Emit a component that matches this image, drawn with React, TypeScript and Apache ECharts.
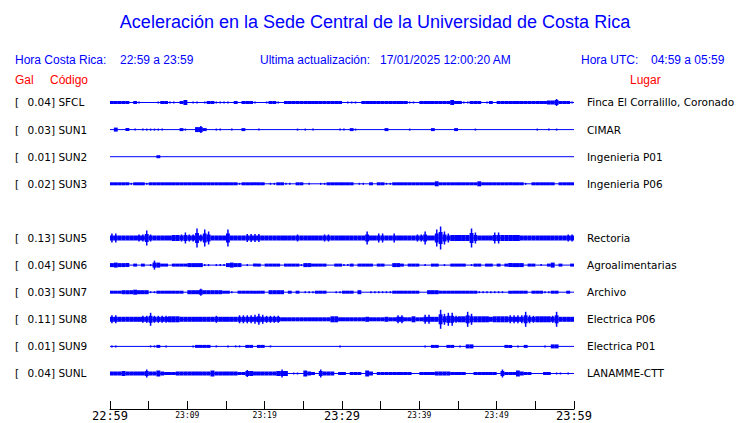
import React, { useEffect, useRef } from 'react';
import * as echarts from 'echarts';

// ---------- data ----------
const codes = ['SFCL', 'SUN1', 'SUN2', 'SUN3', 'SUN4', 'SUN5', 'SUN6', 'SUN7', 'SUN8', 'SUN9', 'SUNL'];
const galPeaks: (number | null)[] = [0.04, 0.03, 0.01, 0.02, null, 0.13, 0.04, 0.03, 0.11, 0.01, 0.04];
const places = ['Finca El Corralillo, Coronado', 'CIMAR', 'Ingenieria P01', 'Ingenieria P06', '', 'Rectoria',
  'Agroalimentarias', 'Archivo', 'Electrica P06', 'Electrica P01', 'LANAMME-CTT'];

const tickMinutes = [0, 10, 20, 30, 40, 50, 60];
const tickLabels = ['22:59', '23:09', '23:19', '23:29', '23:39', '23:49', '23:59'];
const tickMajor = [true, false, false, true, false, false, true];

const BIN_MINUTES = 0.5; // envelope read every half minute
const RECORD_START = 0;
const RECORD_END = 60;

// envelope half-amplitude per half-minute bin (relative units)
const envSFCL = [
  1, 1, 1, 1, 1, 0, 1, 0.5, 0, 0, 0, 0, 0.5, 1, 1, 0.5, 0.5, 0, 1, 2,
  0, 0.5, 0.5, 0, 0.5, 1, 1, 0.5, 0.5, 0.5, 0.5, 0, 1, 0, 1, 1, 1, 0.5, 0, 0,
  0.5, 1, 1, 0.5, 0, 1, 1, 1, 1, 1, 1, 1, 1, 1, 1, 1, 1, 1, 1, 1,
  0, 0.5, 0.5, 0.5, 0, 1, 1, 1, 1, 1, 1, 1, 1, 1, 1, 1, 1, 0.5, 0.5, 0,
  1, 1, 1, 1, 1, 1, 1, 1, 2, 1, 1, 0.5, 0.5, 1, 1, 1, 0, 0.5, 1, 0,
  1, 1, 1, 1, 1, 1, 1, 1, 1, 1, 1, 1, 1, 1.5, 1.5, 3, 1, 1, 1, 0.5,
];
const envSUN1 = [
  0, 1.5, 0, 0, 1, 0, 0.5, 0, 0.5, 0.5, 0.5, 0.5, 0.5, 0.5, 0, 0, 0, 0, 1, 0.5,
  0, 0, 2, 3, 1, 0, 0, 0.5, 0.5, 0, 0, 0.5, 0, 0, 1, 0, 0, 0, 0.5, 0,
  0, 0, 0, 0, 0, 0, 0, 0, 0.5, 0, 0.5, 0, 0.5, 0, 0, 0, 0, 0, 0, 0.5,
  0.5, 0, 1, 0.5, 0, 0, 0, 0, 0, 0, 0, 1, 0, 0, 0, 0, 0, 0.5, 0, 0,
  0, 0, 0, 1, 0, 0, 0, 0, 0, 1, 0, 0, 0, 0, 0.5, 0, 0, 0, 0, 0,
  0, 0, 0, 0, 0, 0, 0, 0, 0, 0, 0.5, 0, 0, 0.5, 0, 0.5, 0, 0, 0, 0,
];
const envSUN2 = [
  0, 0, 0, 0, 0, 0, 0, 0, 0, 0, 0, 0, 1, 0, 0, 0, 0, 0, 0, 0,
  0, 0, 0, 0, 0, 0, 0, 0, 0, 0, 0, 0, 0, 0, 0, 0, 0, 0, 0, 0,
  0, 0, 0, 0, 0, 0, 0, 0, 0, 0, 0, 0, 0, 0, 0, 0, 0, 0, 0, 0,
  0, 0, 0, 0, 0, 0, 0, 0, 0, 0, 0, 0, 0, 0, 0, 0, 0, 0, 0, 0,
  0, 0, 0, 0, 0, 0, 0, 0, 0, 0, 0, 0, 0, 0, 0, 0, 0, 0, 0, 0,
  0, 0, 0, 0, 0, 0, 0, 0, 0, 0, 0, 0, 0, 0, 0, 0, 0, 0, 0, 0,
];
const envSUN3 = [
  1, 1, 1, 1, 1, 0.5, 1, 1, 1, 0.5, 1, 1, 1, 1, 1, 1, 1, 1, 1, 1,
  1, 1, 1, 1, 1, 1, 1, 1, 1, 1, 1, 1, 1, 0.5, 1, 1, 1, 1, 1, 1,
  0, 0.5, 0.5, 1, 1, 0.5, 0.5, 0, 1, 1, 0, 0.5, 0, 0, 0.5, 0.5, 1, 1, 1, 1,
  1, 1, 1, 0, 0.5, 0.5, 0, 1, 0, 1, 1, 0.5, 0.5, 1, 1, 1, 1, 1, 1, 1,
  1, 1, 1, 1, 2, 1, 1, 1, 1, 1, 1, 1, 1, 1, 1, 2, 1, 1, 1, 1,
  1, 1, 1, 1, 1, 1, 1, 0.5, 0, 1, 1, 1, 1, 1, 1, 0, 1, 1, 1, 1,
];
const envSUN5 = [
  4, 4, 2, 2, 2, 2, 2, 3, 3, 7, 3, 2, 2, 2, 2, 2, 2.5, 2.5, 3, 5,
  3, 3, 9, 3, 8, 6, 2, 2, 2, 2, 8, 2, 2, 2, 2, 3.5, 3.5, 3.5, 3.5, 2,
  2, 2, 2, 2, 2, 2, 2, 2, 3, 2, 2, 2, 2, 2, 2, 3, 3, 2, 2, 2,
  2, 2, 2, 2, 2, 2, 6, 2, 2, 4, 4, 2, 2, 4, 2, 2, 2, 2, 2, 3,
  3, 6, 2, 2, 8, 11, 6, 4, 2.5, 2.5, 2.5, 2.5, 2.5, 9, 5, 2, 2, 2, 2, 5,
  5, 2.5, 2.5, 2.5, 2.5, 2.5, 2, 2, 2, 2, 2, 2, 2, 2, 2, 2, 2, 2, 3, 3,
];
const envSUN6 = [
  1.5, 2, 1.5, 1.5, 1.5, 0, 1, 0, 1, 0, 0.5, 4, 2, 1, 1, 0, 1, 1, 1, 1,
  1.5, 1.5, 1.5, 1.5, 0.5, 0.5, 0, 0.5, 0.5, 0.5, 1.5, 2, 1.5, 1.5, 0, 0.5, 0, 1, 1, 0,
  1, 1, 1, 1, 0, 1, 1, 1, 1, 0.5, 1.5, 1.5, 1, 1, 1, 1, 0, 0, 1, 1,
  0.5, 0.5, 1, 0, 1, 1, 1, 1, 0, 1, 1, 0, 0, 1.5, 1.5, 1, 0, 1, 1, 1,
  0, 0.5, 0, 1, 1, 0, 0.5, 0, 1, 1, 1, 1, 0, 0.5, 1, 1, 0, 1, 1, 0,
  1, 0, 1, 1.5, 1.5, 1.5, 1.5, 0, 1, 1, 0, 0.5, 0, 1, 2, 0, 1, 0, 0, 1,
];
const envSUN7 = [
  1, 1, 1, 1.5, 1.5, 1.5, 2, 1.5, 1.5, 1.5, 0.5, 0.5, 1, 1, 1, 1, 1, 1, 1, 0,
  1.5, 1.5, 1.5, 3, 1.5, 1.5, 1.5, 1.5, 1.5, 1, 1, 0.5, 0, 1, 1, 1, 1, 1, 1, 1,
  0, 1.5, 1.5, 1.5, 1.5, 0, 1, 0, 1, 0, 0.5, 0.5, 0.5, 1, 1, 1, 0, 0, 0.5, 0.5,
  1, 1, 1, 0, 1.5, 0, 0, 0.5, 0.5, 0.5, 0.5, 0.5, 0.5, 1, 1, 1, 1, 1, 1, 1,
  0, 0, 1.5, 1.5, 1.5, 1, 1, 1, 1, 1, 1, 1, 1, 1, 1, 0.5, 0.5, 0.5, 0.5, 0.5,
  0.5, 0.5, 0, 1, 1, 1, 1, 1, 0, 1, 1, 1, 0.5, 0.5, 1, 1, 0, 0, 1, 0,
];
const envSUN8 = [
  3.5, 3.5, 2, 2, 2, 2, 2, 2, 3, 3, 6, 3, 3, 3, 3, 2.5, 2.5, 2.5, 2, 2,
  2, 2, 2, 2, 2, 2, 2, 3, 2, 2, 2, 2, 2, 3.5, 3.5, 3.5, 3.5, 4, 5, 4,
  3, 3, 3, 3, 1.5, 1.5, 1.5, 1.5, 1.5, 1.5, 1.5, 1.5, 1.5, 1.5, 1.5, 1.5, 1.5, 2.5, 2.5, 1.5,
  1.5, 1.5, 1.5, 1.5, 1.5, 1.5, 2, 1.5, 1.5, 1.5, 1.5, 2, 1.5, 1.5, 3.5, 3.5, 1.5, 1.5, 2.5, 1.5,
  1.5, 4, 4, 2, 2, 9, 5, 6, 6, 3, 2.5, 2.5, 7, 5, 2.5, 2.5, 2.5, 2.5, 2, 2.5,
  2.5, 2.5, 2.5, 3.5, 3.5, 3.5, 3.5, 7, 3.5, 3, 2.5, 2.5, 2.5, 2.5, 3, 7, 2, 2, 2, 2,
];
const envSUN9 = [
  0.5, 0.5, 0, 0, 0, 0, 0, 0, 0, 0, 0.5, 0.5, 1, 0, 0.5, 0, 0, 0, 0, 0,
  0, 0.5, 1, 1, 1, 1, 0, 0.5, 0, 0, 0.5, 0, 0.5, 0.5, 0, 1, 1, 0, 1, 1,
  0, 0.5, 0, 0, 0, 0, 0, 0, 0, 0, 0, 0, 0, 0, 0, 0, 0, 0, 0, 0.5,
  0, 0, 0, 0, 0, 0, 0, 0, 0, 0, 0, 0, 0, 0, 0, 0, 0, 0, 0, 0,
  0, 0.5, 0, 1, 1, 0, 0, 1, 1, 0, 0.5, 0, 1.5, 1.5, 0, 0, 0, 0, 0, 0,
  0, 0, 1, 1, 0, 0.5, 0, 1, 0, 0, 0, 0, 0.5, 0, 1.5, 1.5, 0, 0, 0, 0,
];
const envSUNL = [
  1.5, 1.5, 1.5, 2, 1.5, 1.5, 1.5, 1.5, 1.5, 3.5, 1.5, 1.5, 2.5, 1.5, 1, 1, 1, 1.5, 1.5, 1.5,
  1.5, 1.5, 1.5, 1.5, 1.5, 1.5, 2.5, 1.5, 1.5, 1.5, 1.5, 1.5, 1.5, 1, 1, 3, 2, 1.5, 1.5, 1.5,
  1.5, 1.5, 1.5, 2, 3.5, 2, 0, 0.5, 0.5, 0, 2.5, 1.5, 1, 0, 3.5, 1.5, 1.5, 1.5, 0, 1,
  1, 0, 1, 1, 1, 0, 2.5, 1.5, 0, 1, 1, 1, 1, 1, 1, 1, 1, 1, 0, 0,
  1, 1, 1, 1, 1.5, 1.5, 1.5, 1.5, 1, 1, 1, 1, 0, 0, 1, 1, 1, 1, 1, 1,
  0, 3.5, 1, 1, 1, 2.5, 1.5, 1, 1, 0, 0, 0, 1, 1, 0, 0.5, 0.5, 0, 0.5, 0,
];

const envelopes: (number[] | null)[] = [envSFCL, envSUN1, envSUN2, envSUN3, null, envSUN5, envSUN6, envSUN7, envSUN8, envSUN9, envSUNL];

// ---------- styling ----------
const BLUE = '#0000ff';
const RED = '#ff0000';
const SANS = '"Liberation Sans", Arial, sans-serif';
const DEJAVU = '"DejaVu Sans", sans-serif';
const MONO = '"DejaVu Sans Mono", monospace';

function buildOption() {
  const envData: number[][] = [];
  envelopes.forEach((env, row) => {
    if (!env) return;
    env.forEach((amp, i) => {
      if (amp > 0) envData.push([i * BIN_MINUTES, (i + 1) * BIN_MINUTES, row, amp]);
    });
  });

  const baselineSeries = envelopes
    .map((env, row) => (env ? {
      type: 'line',
      data: [[RECORD_START, row], [RECORD_END, row]],
      showSymbol: false,
      symbol: 'none',
      silent: true,
      lineStyle: { color: BLUE, width: 1 },
      z: 2,
    } : null))
    .filter(Boolean);

  const rowLabel = (v: number) => {
    if (!Number.isInteger(v) || v < 0 || v >= codes.length) return '';
    const g = galPeaks[v];
    if (g == null) return '';
    return `{br|[}${g.toFixed(2)}] ${codes[v]}`;
  };
  const placeLabel = (v: number) => {
    if (!Number.isInteger(v) || v < 0 || v >= places.length) return '';
    return galPeaks[v] == null ? '' : places[v];
  };

  const yCommon = {
    type: 'value',
    inverse: true,
    min: -1,
    max: 11.31,
    interval: 1,
    axisLine: { show: false },
    axisTick: { show: false },
    splitLine: { show: false },
  };

  return {
    animation: false,
    backgroundColor: '#ffffff',
    grid: { left: 110, right: 166, top: 75.4, bottom: 14, containLabel: false },
    xAxis: {
      type: 'value',
      position: 'bottom',
      min: 0,
      max: 60,
      interval: 5,
      splitLine: { show: false },
      axisLine: { show: true, onZero: false, lineStyle: { color: '#000', width: 1 } },
      axisTick: { show: true, inside: true, length: 8, lineStyle: { color: '#000', width: 1 } },
      axisLabel: {
        showMinLabel: true,
        showMaxLabel: true,
        margin: 0,
        color: '#000',
        formatter: (v: number) => {
          const k = tickMinutes.indexOf(v);
          if (k < 0) return '';
          return tickMajor[k] ? `{big|${tickLabels[k]}}` : `{small|${tickLabels[k]}}`;
        },
        rich: {
          big: { fontFamily: MONO, fontSize: 12, lineHeight: 14, color: '#000' },
          small: { fontFamily: MONO, fontSize: 8, lineHeight: 12, color: '#000' },
        },
      },
    },
    yAxis: [
      {
        ...yCommon,
        position: 'left',
        axisLabel: {
          margin: 95,
          align: 'left',
          color: '#000',
          fontFamily: DEJAVU,
          fontSize: 10.5,
          formatter: rowLabel,
          rich: { br: { width: 12.6, fontFamily: DEJAVU, fontSize: 10.5, color: '#000' } },
        },
      },
      {
        ...yCommon,
        position: 'right',
        axisLabel: {
          margin: 13,
          align: 'left',
          color: '#000',
          fontFamily: DEJAVU,
          fontSize: 10.5,
          formatter: placeLabel,
        },
      },
    ],
    graphic: [
      { type: 'text', x: 375, y: 22, style: { text: 'Aceleración en la Sede Central de la Universidad de Costa Rica', fill: BLUE, fontFamily: SANS, fontSize: 18, align: 'center', verticalAlign: 'middle' } },
      { type: 'text', x: 15, y: 60, style: { text: 'Hora Costa Rica:', fill: BLUE, fontFamily: SANS, fontSize: 12, align: 'left', verticalAlign: 'middle' } },
      { type: 'text', x: 120, y: 60, style: { text: '22:59 a 23:59', fill: BLUE, fontFamily: SANS, fontSize: 12, align: 'left', verticalAlign: 'middle' } },
      { type: 'text', x: 260, y: 60, style: { text: 'Ultima actualización:', fill: BLUE, fontFamily: SANS, fontSize: 12, align: 'left', verticalAlign: 'middle' } },
      { type: 'text', x: 380, y: 60, style: { text: '17/01/2025 12:00:20 AM', fill: BLUE, fontFamily: SANS, fontSize: 12, align: 'left', verticalAlign: 'middle' } },
      { type: 'text', x: 581, y: 60, style: { text: 'Hora UTC:', fill: BLUE, fontFamily: SANS, fontSize: 12, align: 'left', verticalAlign: 'middle' } },
      { type: 'text', x: 651, y: 60, style: { text: '04:59 a 05:59', fill: BLUE, fontFamily: SANS, fontSize: 12, align: 'left', verticalAlign: 'middle' } },
      { type: 'text', x: 15, y: 80, style: { text: 'Gal', fill: RED, fontFamily: SANS, fontSize: 12, align: 'left', verticalAlign: 'middle' } },
      { type: 'text', x: 50, y: 80, style: { text: 'Código', fill: RED, fontFamily: SANS, fontSize: 12, align: 'left', verticalAlign: 'middle' } },
      { type: 'text', x: 630, y: 80, style: { text: 'Lugar', fill: RED, fontFamily: SANS, fontSize: 12, align: 'left', verticalAlign: 'middle' } },
    ],
    series: [
      ...baselineSeries,
      {
        type: 'custom',
        silent: true,
        z: 3,
        data: envData,
        renderItem: (_params: any, api: any) => {
          const t0 = api.value(0);
          const t1 = api.value(1);
          const row = api.value(2);
          const amp = api.value(3);
          const a = api.coord([t0, row]);
          const b = api.coord([t1, row]);
          const cx = (a[0] + b[0]) / 2;
          const full = amp + 0.5;
          if (amp < 1) {
            return { type: 'rect', shape: { x: cx - 0.75, y: a[1] - full, width: 1.5, height: full * 2 }, style: { fill: BLUE } };
          }
          if (amp < 3) {
            return { type: 'rect', shape: { x: a[0], y: a[1] - full, width: b[0] - a[0], height: full * 2 }, style: { fill: BLUE } };
          }
          const body = Math.max(2, amp * 0.5) + 0.5;
          return {
            type: 'group',
            children: [
              { type: 'rect', shape: { x: a[0], y: a[1] - body, width: b[0] - a[0], height: body * 2 }, style: { fill: BLUE } },
              { type: 'rect', shape: { x: cx - 0.75, y: a[1] - full, width: 1.5, height: full * 2 }, style: { fill: BLUE } },
            ],
          };
        },
      },
    ],
  };
}

export default function App() {
  const ref = useRef<HTMLDivElement>(null);
  useEffect(() => {
    document.body.style.margin = '0';
    const chart = echarts.init(ref.current as HTMLDivElement, null, { renderer: 'svg' });
    chart.setOption(buildOption() as any);
    return () => chart.dispose();
  }, []);
  return <div ref={ref} style={{ width: 740, height: 423 }} />;
}
